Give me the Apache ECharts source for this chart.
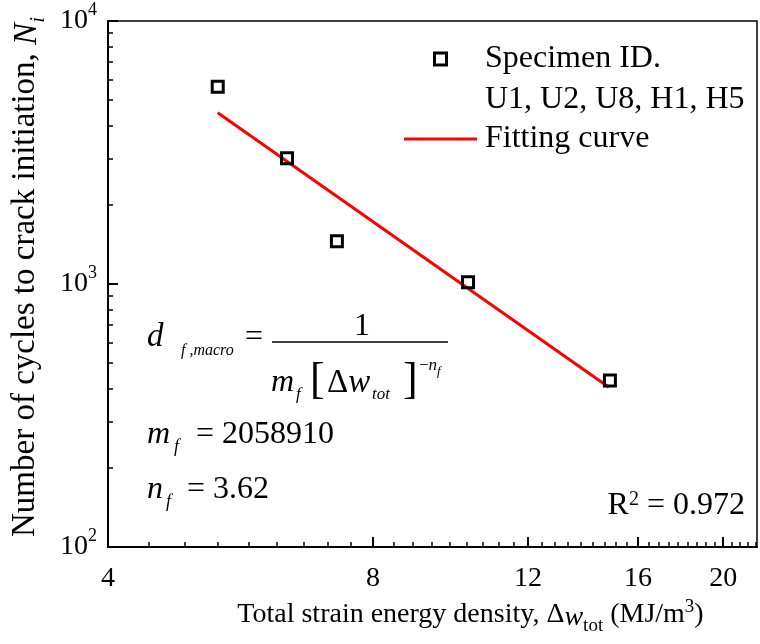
<!DOCTYPE html>
<html>
<head>
<meta charset="utf-8">
<script src="https://cdn.jsdelivr.net/npm/echarts@6/dist/echarts.min.js"></script>
<style>
html,body{margin:0;padding:0;background:#fff;}
#chart{width:760px;height:644px;}
</style>
</head>
<body>
<div id="chart"></div>
<script>
// ---- data ----
const energy = [5.33, 6.39, 7.28, 10.26, 14.87];       // Δw_tot (MJ/m^3)
const cycles = [5620, 3010, 1455, 1015, 430];         // N_i
const fitEnergy = [5.33, 14.83];
const fitCycles = [4480, 405];
const xMajorTicks = [4, 8, 12, 16, 20];
const yMajorTicks = [100, 1000, 10000];
const yMinorTicks = [200, 300, 400, 500, 600, 700, 800, 900, 2000, 3000, 4000, 5000, 6000, 7000, 8000, 9000];
const xMin = 4, xMax = 21.85;
const xMinorTicks = [];
for (let k = 1; 4 + k * 4 / 9 < xMax; k++) { if (k % 9 !== 0) xMinorTicks.push(4 + k * 4 / 9); }

const FONT = "'Liberation Serif', 'Times New Roman', serif";
const scatterData = energy.map((v, i) => [v, cycles[i]]);
const fitData = fitEnergy.map((v, i) => [v, fitCycles[i]]);

const chart = echarts.init(document.getElementById('chart'), null, {renderer: 'canvas'});

const xBase = {
  type: 'log', logBase: 2, min: xMin, max: xMax, position: 'bottom', gridIndex: 0,
  splitLine: {show: false}, minorTick: {show: false}, minorSplitLine: {show: false}
};
const yBase = {
  type: 'log', logBase: 10, min: 100, max: 10000, position: 'left', gridIndex: 0,
  splitLine: {show: false}, minorTick: {show: false}, minorSplitLine: {show: false}
};

const option = {
  backgroundColor: '#fff',
  animation: false,
  grid: {left: 108, right: 3, top: 21, bottom: 97, show: true, borderColor: '#000', borderWidth: 1.5, containLabel: false},
  legend: {
    orient: 'vertical', left: 404, top: 39, padding: 0, itemGap: 40, itemWidth: 73, itemHeight: 12,
    textStyle: {fontFamily: FONT, fontSize: 32, color: '#000', lineHeight: 40, padding: [0, 0, 0, 3]},
    data: [
      {name: 'Specimen ID.', icon: 'path://M0,0H10V10H0Z',
       itemStyle: {color: 'rgba(0,0,0,0)', borderColor: '#000', borderWidth: 3}},
      {name: 'Fitting curve', icon: 'path://M0,0H100V4H0Z',
       itemStyle: {color: '#ff0000', borderWidth: 0}}
    ],
    selectedMode: false
  },
  xAxis: [
    Object.assign({}, xBase, {
      axisLine: {show: true, onZero: false, lineStyle: {color: '#000', width: 2}},
      axisTick: {show: true, inside: true, length: 10, lineStyle: {color: '#000', width: 2}, customValues: xMajorTicks},
      axisLabel: {show: true, margin: 18, customValues: xMajorTicks, fontFamily: FONT, fontSize: 28, color: '#000',
        formatter: v => String(Math.round(v))},
      name: 'Total strain energy density, Δ{i|w}{sub|tot} (MJ/m{sup|3})',
      nameLocation: 'middle', nameGap: 50,
      nameTextStyle: {fontFamily: FONT, fontSize: 28, color: '#000', padding: [0, 0, 0, 76],
        rich: {
          i: {fontFamily: FONT, fontStyle: 'italic', fontSize: 28, color: '#000', verticalAlign: 'bottom', lineHeight: 34},
          sub: {fontFamily: FONT, fontSize: 19, color: '#000', verticalAlign: 'bottom', lineHeight: 22, padding: [0, 0, -4, 0]},
          sup: {fontFamily: FONT, fontSize: 19, color: '#000', verticalAlign: 'top', lineHeight: 19}
        }}
    }),
    Object.assign({}, xBase, {
      axisLine: {show: false},
      axisTick: {show: true, inside: true, length: 5, lineStyle: {color: '#000', width: 1.5}, customValues: xMinorTicks},
      axisLabel: {show: false}
    })
  ],
  yAxis: [
    Object.assign({}, yBase, {
      axisLine: {show: true, onZero: false, lineStyle: {color: '#000', width: 2}},
      axisTick: {show: true, inside: true, length: 10, lineStyle: {color: '#000', width: 2}, customValues: yMajorTicks},
      axisLabel: {show: true, margin: 11, customValues: yMajorTicks,
        formatter: v => '{b|10}{s|' + Math.round(Math.log10(v)) + '}',
        rich: {
          b: {fontFamily: FONT, fontSize: 28, color: '#000', lineHeight: 40, verticalAlign: 'middle'},
          s: {fontFamily: FONT, fontSize: 18, color: '#000', lineHeight: 18, verticalAlign: 'top'}
        }},
      name: 'Number of cycles to crack initiation, {i|N}{sub|i}',
      nameLocation: 'middle', nameGap: 60, nameRotate: 90,
      nameTextStyle: {fontFamily: FONT, fontSize: 33, color: '#000', padding: [0, 0, 0, 14],
        rich: {
          i: {fontFamily: FONT, fontStyle: 'italic', fontSize: 33, color: '#000', verticalAlign: 'bottom', lineHeight: 38},
          sub: {fontFamily: FONT, fontStyle: 'italic', fontSize: 21, color: '#000', verticalAlign: 'bottom', lineHeight: 24, padding: [0, 0, -5, 0]}
        }}
    }),
    Object.assign({}, yBase, {
      axisLine: {show: false},
      axisTick: {show: true, inside: true, length: 5, lineStyle: {color: '#000', width: 1.5}, customValues: yMinorTicks},
      axisLabel: {show: false}
    })
  ],
  series: [
    {
      name: 'Fitting curve', type: 'line', xAxisIndex: 0, yAxisIndex: 0,
      data: fitData, symbol: 'none', showSymbol: false,
      lineStyle: {color: '#ff0000', width: 3}, itemStyle: {color: '#ff0000'}, z: 2
    },
    {
      name: 'Specimen ID.', type: 'scatter', xAxisIndex: 0, yAxisIndex: 0,
      data: scatterData, symbol: 'rect', symbolSize: 11,
      itemStyle: {color: 'rgba(0,0,0,0)', borderColor: '#000', borderWidth: 3, opacity: 1}, z: 3
    }
  ],
  graphic: [
    {type: 'text', left: 485, top: 84, style: {text: 'U1, U2, U8, H1, H5', fontFamily: FONT, fontSize: 32, fill: '#000'}},
    // equation d_{f,macro} = 1 / (m_f [Δw_tot]^{-n_f})
    {type: 'text', x: 147, y: 337, style: {text: 'd', fontFamily: FONT, fontStyle: 'italic', fontSize: 33, fill: '#000', verticalAlign: 'middle'}},
    {type: 'text', x: 181, y: 351, style: {text: 'f ,macro', fontFamily: FONT, fontStyle: 'italic', fontSize: 16, fill: '#000', verticalAlign: 'middle'}},
    {type: 'text', x: 245, y: 338, style: {text: '=', fontFamily: FONT, fontSize: 32, fill: '#000', verticalAlign: 'middle'}},
    {type: 'text', x: 362, y: 327, style: {text: '1', fontFamily: FONT, fontSize: 32, fill: '#000', align: 'center', verticalAlign: 'middle'}},
    {type: 'line', shape: {x1: 272, y1: 342, x2: 448, y2: 342}, style: {stroke: '#000', lineWidth: 1.5}},
    {type: 'text', x: 271, y: 383, style: {text: 'm', fontFamily: FONT, fontStyle: 'italic', fontSize: 32, fill: '#000', verticalAlign: 'middle'}},
    {type: 'text', x: 296, y: 395, style: {text: 'f', fontFamily: FONT, fontStyle: 'italic', fontSize: 17, fill: '#000', verticalAlign: 'middle'}},
    {type: 'text', x: 310, y: 381, style: {text: '[', fontFamily: FONT, fontSize: 44, fill: '#000', verticalAlign: 'middle'}},
    {type: 'text', x: 327, y: 383, style: {text: 'Δ{i|w}', fontFamily: FONT, fontSize: 33, fill: '#000', verticalAlign: 'middle',
      rich: {i: {fontFamily: FONT, fontStyle: 'italic', fontSize: 33, fill: '#000'}}}},
    {type: 'text', x: 372, y: 395, style: {text: 'tot', fontFamily: FONT, fontStyle: 'italic', fontSize: 17, fill: '#000', verticalAlign: 'middle'}},
    {type: 'text', x: 403, y: 381, style: {text: ']', fontFamily: FONT, fontSize: 44, fill: '#000', verticalAlign: 'middle'}},
    {type: 'text', x: 419, y: 366, style: {text: '−{i|n}', fontFamily: FONT, fontSize: 17, fill: '#000', verticalAlign: 'middle',
      rich: {i: {fontFamily: FONT, fontStyle: 'italic', fontSize: 17, fill: '#000'}}}},
    {type: 'text', x: 437, y: 372, style: {text: 'f', fontFamily: FONT, fontStyle: 'italic', fontSize: 13, fill: '#000', verticalAlign: 'middle'}},
    // m_f = 2058910
    {type: 'text', x: 147, y: 435, style: {text: 'm', fontFamily: FONT, fontStyle: 'italic', fontSize: 32, fill: '#000', verticalAlign: 'middle'}},
    {type: 'text', x: 174, y: 447, style: {text: 'f', fontFamily: FONT, fontStyle: 'italic', fontSize: 18, fill: '#000', verticalAlign: 'middle'}},
    {type: 'text', x: 196, y: 435, style: {text: '= 2058910', fontFamily: FONT, fontSize: 32, fill: '#000', verticalAlign: 'middle'}},
    // n_f = 3.62
    {type: 'text', x: 147, y: 490, style: {text: 'n', fontFamily: FONT, fontStyle: 'italic', fontSize: 32, fill: '#000', verticalAlign: 'middle'}},
    {type: 'text', x: 166, y: 502, style: {text: 'f', fontFamily: FONT, fontStyle: 'italic', fontSize: 18, fill: '#000', verticalAlign: 'middle'}},
    {type: 'text', x: 187, y: 490, style: {text: '= 3.62', fontFamily: FONT, fontSize: 32, fill: '#000', verticalAlign: 'middle'}},
    // R^2
    {type: 'text', x: 745, y: 506, style: {text: 'R{s|2} = 0.972', fontFamily: FONT, fontSize: 32, fill: '#000', align: 'right', verticalAlign: 'middle',
      rich: {s: {fontFamily: FONT, fontSize: 20, fill: '#000', verticalAlign: 'top', lineHeight: 20}}}}
  ]
};
chart.setOption(option);
</script>
</body>
</html>
